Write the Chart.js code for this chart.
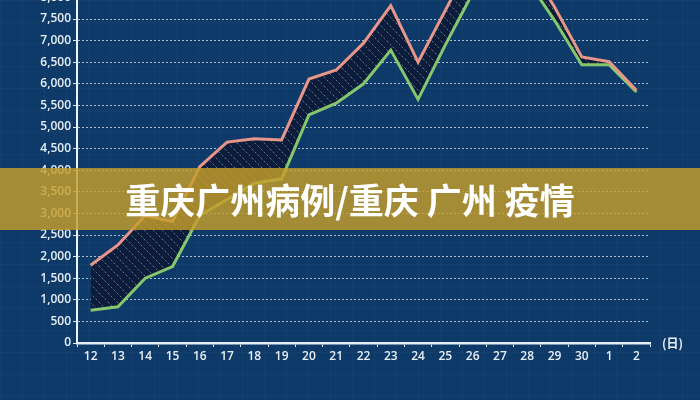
<!DOCTYPE html>
<html>
<head>
<meta charset="utf-8">
<script src="https://cdn.jsdelivr.net/npm/chart.js@4/dist/chart.umd.min.js"></script>
<style>
  html, body { margin: 0; padding: 0; }
  body {
    width: 700px; height: 400px; overflow: hidden; position: relative;
    background-color: #0e3a69;
    background-image:
      linear-gradient(rgba(255,255,255,0.025) 1px, transparent 1px),
      linear-gradient(90deg, rgba(255,255,255,0.025) 1px, transparent 1px);
    background-size: 22px 22px;
  }
  #chart { position: absolute; left: 0; top: -40px; }
  #unit {
    position: absolute; left: 662px; top: 334px;
    color: #e8eef5; font: 600 12px "Noto Sans CJK SC", sans-serif;
  }
  #banner {
    position: absolute; left: 0; top: 168px; width: 700px; height: 62px;
    background: rgba(198, 158, 42, 0.82);
    color: #ffffff; text-align: center;
    font: 700 35px/62px "Noto Sans CJK SC", sans-serif;
  }
</style>
</head>
<body>
<canvas id="chart" width="700" height="440"></canvas>
<div id="unit">(日)</div>
<div id="banner">重庆广州病例/重庆 广州 疫情</div>
<script>
// 日期(横轴)
const days = ['12', '13', '14', '15', '16', '17', '18', '19', '20', '21', '22',
              '23', '24', '25', '26', '27', '28', '29', '30', '1', '2'];

// 两条曲线的数值
const redSeries = [1800, 2270, 2950, 2810, 4080, 4650, 4730, 4700, 6110, 6320, 6940,
                   7810, 6500, 7700, 8900, 9000, 8800, 7780, 6620, 6510, 5850];
const greenSeries = [760, 840, 1500, 1770, 2950, 3320, 3700, 3800, 5280, 5550, 6000,
                     6780, 5640, 6900, 8100, 8500, 8400, 7470, 6440, 6440, 5810];

// 纵轴范围
const yMax = 8000;
const yStep = 500;

// 斜线填充
function hatch() {
    const c = document.createElement('canvas');
    c.width = 9; c.height = 9;
    const g = c.getContext('2d');
    g.fillStyle = '#0c1d3b';
    g.fillRect(0, 0, 9, 9);
    g.strokeStyle = 'rgba(190, 205, 225, 0.5)';
    g.lineWidth = 1;
    g.setLineDash([2, 2]);
    g.beginPath();
    g.moveTo(0, 0); g.lineTo(9, 9);
    g.moveTo(-1, 8); g.lineTo(1, 10);
    g.moveTo(8, -1); g.lineTo(10, 1);
    g.stroke();
    return g.createPattern(c, 'repeat');
}

const ctx = document.getElementById('chart').getContext('2d');
const tickFont = { family: '"Open Sans", sans-serif', size: 12, weight: '600' };

new Chart(ctx, {
    type: 'line',
    data: {
        labels: days,
        datasets: [{
            data: redSeries,
            borderColor: '#e8958a',
            borderWidth: 3,
            pointRadius: 0,
            tension: 0,
            fill: '+1',
            backgroundColor: hatch()
        }, {
            data: greenSeries,
            borderColor: '#86c66c',
            borderWidth: 3,
            pointRadius: 0,
            tension: 0,
            fill: false
        }]
    },
    options: {
        responsive: false,
        animation: false,
        layout: { padding: { top: 37.4, right: 50, left: 0, bottom: 0 } },
        plugins: {
            legend: { display: false },
            tooltip: { enabled: false },
            filler: { drawTime: 'beforeDatasetsDraw' }
        },
        scales: {
            x: {
                offset: true,
                grid: { display: true, offset: true, drawOnChartArea: false, tickLength: 4, color: '#dfeaf5' },
                border: { display: true, color: '#e3eef8', width: 2.5 },
                ticks: { color: '#e8eef5', font: tickFont, padding: 2, maxRotation: 0, autoSkip: false },
                afterFit: s => { s.height = 57; }
            },
            y: {
                min: 0,
                max: yMax,
                grid: { color: 'rgba(225, 235, 248, 0.75)', lineWidth: 1, tickLength: 4, tickColor: '#dfeaf5', tickBorderDash: [] },
                border: { display: true, color: '#eef4fa', width: 2, dash: [2, 2] },
                ticks: {
                    stepSize: yStep,
                    color: '#e8eef5',
                    font: tickFont,
                    padding: 2,
                    callback: v => v.toLocaleString('en-US')
                },
                afterFit: s => { s.width = 77; }
            }
        }
    }
});
</script>
</body>
</html>
